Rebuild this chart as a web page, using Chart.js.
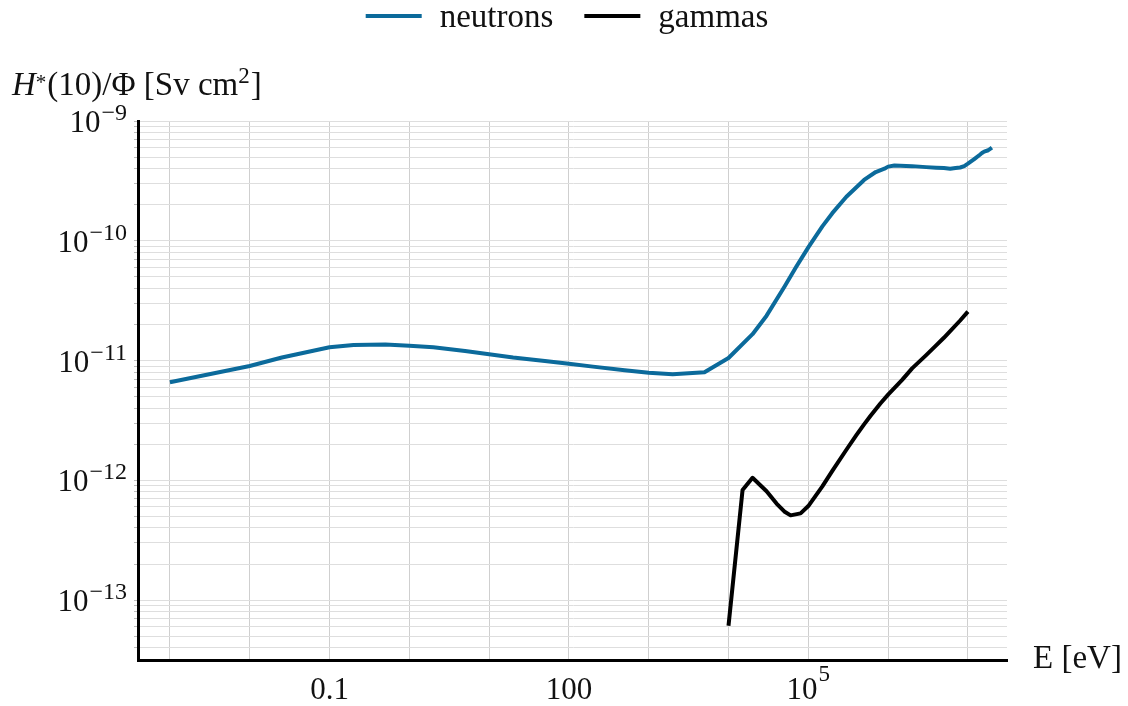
<!DOCTYPE html>
<html>
<head>
<meta charset="utf-8">
<title>H*(10) conversion coefficients</title>
<script src="https://cdn.jsdelivr.net/npm/chart.js@4.4.1/dist/chart.umd.min.js"></script>
<style>
  html, body { margin: 0; padding: 0; background: #fff; }
  canvas { display: block; }
</style>
</head>
<body>
<canvas id="chart" width="1128" height="706"></canvas>
<script>
// ambient dose equivalent per unit fluence, values in pSv cm^2
const PSV = 1e-12;

const neutronEnergy = [1e-3, 1e-2, 2.53e-2, 1e-1, 2e-1, 5e-1, 1, 2, 5, 10,
  20, 50, 100, 200, 500, 1e3, 2e3, 5e3, 1e4, 2e4,
  3e4, 5e4, 7e4, 1e5, 1.5e5, 2e5, 3e5, 5e5, 7e5, 9e5,
  1e6, 1.2e6, 2e6, 3e6, 4e6, 5e6, 6e6, 7e6, 8e6, 9e6,
  1e7, 1.2e7, 1.4e7, 1.5e7, 1.6e7, 1.8e7, 2e7];
const neutronDose = [6.6, 9.0, 10.6, 12.9, 13.5, 13.6, 13.3, 12.9, 12.0, 11.3,
  10.6, 9.9, 9.4, 8.9, 8.3, 7.9, 7.7, 8.0, 10.5, 16.6,
  23.7, 41.1, 60.0, 88.0, 132, 170, 233, 322, 375, 400,
  416, 425, 420, 412, 408, 405, 400, 405, 409, 420,
  440, 480, 520, 540, 555, 570, 600];

const gammaEnergy = [1e4, 1.5e4, 2e4, 3e4, 4e4, 5e4, 6e4, 8e4, 1e5, 1.5e5,
  2e5, 3e5, 4e5, 5e5, 6e5, 8e5, 1e6, 1.5e6, 2e6, 3e6,
  4e6, 5e6, 6e6, 8e6, 1e7];
const gammaDose = [0.061, 0.83, 1.05, 0.81, 0.64, 0.55, 0.51, 0.53, 0.61, 0.89,
  1.20, 1.80, 2.38, 2.93, 3.44, 4.38, 5.20, 6.90, 8.60, 11.1,
  13.4, 15.5, 17.6, 21.6, 25.6];

const seriesLabels = ['neutrons', 'gammas'];
const seriesColors = ['#0b6a9b', '#000000'];

const xTickValues = [0.1, 100, 1e5];
const xTickLabels = ['0.1', '100', '10^5'];
const yTickValues = [1e-13, 1e-12, 1e-11, 1e-10, 1e-9];
const yTickLabels = ['10^-13', '10^-12', '10^-11', '10^-10', '10^-9'];

const xTitle = 'E [eV]';

// grid: every decade on x, 1..9 per decade on y
const xGrid = [];
for (let e = -3; e <= 7; e++) xGrid.push(Math.pow(10, e));
const yGrid = [];
for (let e = -14; e <= -10; e++) {
  for (let m = 1; m <= 9; m++) {
    const v = m * Math.pow(10, e);
    if (v >= 4e-14) yGrid.push(v);
  }
}
yGrid.push(1e-9);

const FONT = '"Liberation Serif", "Times New Roman", serif';
const INK = '#111';

function toPoints(xs, ys) {
  return xs.map((x, i) => ({ x: x, y: ys[i] * PSV }));
}

// "10^-9" -> base "10" with raised exponent
function drawPower(ctx, label, x, y, align, size, supSize, rise) {
  const parts = label.split('^');
  const base = parts[0];
  const exp = parts.length > 1 ? parts[1].replace('-', '\u2212') : '';
  ctx.font = size + 'px ' + FONT;
  const wBase = ctx.measureText(base).width;
  ctx.font = supSize + 'px ' + FONT;
  const wExp = exp ? ctx.measureText(exp).width + 1 : 0;
  const total = wBase + wExp;
  let left = x;
  if (align === 'right') left = x - total;
  if (align === 'center') left = x - total / 2;
  ctx.font = size + 'px ' + FONT;
  ctx.fillText(base, left, y);
  if (exp) {
    ctx.font = supSize + 'px ' + FONT;
    ctx.fillText(exp, left + wBase + 1, y - rise);
  }
}

// mixed-style text runs: {t, italic, size, rise}
function drawRuns(ctx, runs, x, y, size) {
  let cx = x;
  runs.forEach(r => {
    const s = r.size || size;
    ctx.font = (r.italic ? 'italic ' : '') + s + 'px ' + FONT;
    ctx.fillText(r.t, cx, y - (r.rise || 0));
    cx += ctx.measureText(r.t).width + (r.rise ? 1 : 0);
  });
}

const labelsPlugin = {
  id: 'labels',
  afterDraw(chart) {
    const ctx = chart.ctx;
    const xs = chart.scales.x;
    const ys = chart.scales.y;
    ctx.save();
    ctx.fillStyle = INK;
    ctx.textAlign = 'left';
    ctx.textBaseline = 'alphabetic';

    yTickValues.forEach((v, i) => {
      const py = ys.getPixelForValue(v);
      drawPower(ctx, yTickLabels[i], 127, py + 11, 'right', 31, 24, 12);
    });
    xTickValues.forEach((v, i) => {
      const px = xs.getPixelForValue(v);
      drawPower(ctx, xTickLabels[i], px, 699, 'center', 31, 23, 18);
    });

    // axis titles
    drawRuns(ctx, [
      { t: 'H', italic: true },
      { t: '*', size: 21, rise: 6 },
      { t: '(10)/\u03A6 [Sv cm' },
      { t: '2', size: 23, rise: 12 },
      { t: ']' }
    ], 12, 95, 33);
    ctx.font = '33px ' + FONT;
    ctx.fillText(xTitle, xs.right + 26, 668);

    // legend
    const items = chart.data.datasets.map(ds => {
      ctx.font = '33px ' + FONT;
      return { label: ds.label, color: ds.borderColor, w: ctx.measureText(ds.label).width };
    });
    const swatch = 56, gap = 18, spacing = 31;
    const total = items.reduce((s, it) => s + swatch + gap + it.w, 0) + spacing * (items.length - 1);
    let lx = 567 - total / 2;
    items.forEach(it => {
      ctx.fillStyle = it.color;
      ctx.fillRect(lx, 14, swatch, 4);
      ctx.fillStyle = INK;
      ctx.font = '33px ' + FONT;
      ctx.fillText(it.label, lx + swatch + gap, 27);
      lx += swatch + gap + it.w + spacing;
    });
    ctx.restore();
  }
};

const ctx = document.getElementById('chart').getContext('2d');

new Chart(ctx, {
  type: 'line',
  data: {
    datasets: [
      {
        label: seriesLabels[0],
        data: toPoints(neutronEnergy, neutronDose),
        borderColor: seriesColors[0],
        backgroundColor: seriesColors[0]
      },
      {
        label: seriesLabels[1],
        data: toPoints(gammaEnergy, gammaDose),
        borderColor: seriesColors[1],
        backgroundColor: seriesColors[1]
      }
    ]
  },
  options: {
    responsive: false,
    devicePixelRatio: 1,
    animation: false,
    layout: { padding: { left: 134, right: 121, top: 121, bottom: 46 } },
    elements: {
      point: { radius: 0 },
      line: { borderWidth: 4, tension: 0, borderJoinStyle: 'round', fill: false }
    },
    plugins: {
      legend: { display: false },
      tooltip: { enabled: false }
    },
    scales: {
      x: {
        type: 'logarithmic',
        min: Math.pow(10, -3.4),
        max: Math.pow(10, 7.49),
        afterBuildTicks: scale => { scale.ticks = xGrid.map(v => ({ value: v })); },
        ticks: { display: false },
        grid: { color: '#cfcfcf', lineWidth: 1, drawTicks: false },
        border: { display: true, color: '#000', width: 3 }
      },
      y: {
        type: 'logarithmic',
        min: Math.pow(10, -13.5),
        max: 1e-9,
        afterBuildTicks: scale => { scale.ticks = yGrid.map(v => ({ value: v })); },
        ticks: { display: false },
        grid: { color: '#dedede', lineWidth: 1, drawTicks: true, tickLength: 4, tickColor: '#bdbdbd' },
        border: { display: true, color: '#000', width: 3 }
      }
    }
  },
  plugins: [labelsPlugin]
});
</script>
</body>
</html>
